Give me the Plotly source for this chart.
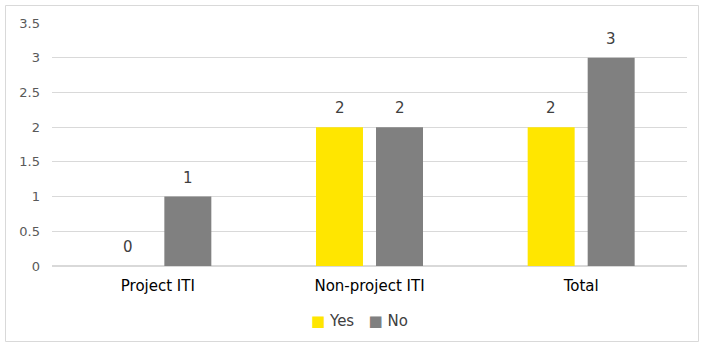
import plotly.graph_objects as go

categories = ["Project ITI", "Non-project ITI", "Total"]
yes_values = [0, 2, 2]
no_values = [1, 2, 3]
y_ticks = [0, 0.5, 1, 1.5, 2, 2.5, 3, 3.5]
series_names = ["Yes", "No"]

YELLOW = "#FFE600"
GREY = "#808080"
FONT = "DejaVu Sans"

W, H = 704, 347
L, R, T, B = 52, 17, 23, 81
pw, ph = W - L - R, H - T - B


def px_x(p):
    return (p - L) / pw


def px_y(p):
    return (H - B - p) / ph


fig = go.Figure()
for name, vals, col in zip(series_names, (yes_values, no_values), (YELLOW, GREY)):
    fig.add_trace(go.Bar(name=name, x=categories, y=vals, marker_color=col,
                         marker_line_width=0, showlegend=False))

# value labels above each bar
for i, cat in enumerate(categories):
    for vals, off in ((yes_values, -30), (no_values, 30)):
        fig.add_annotation(x=i, y=vals[i], text=str(vals[i]), xref="x", yref="y",
                           xshift=off, yshift=19, showarrow=False,
                           font=dict(family=FONT, size=15, color="#404040"))

# compact legend with small square swatches
legend_text = "   ".join(
    f"<span style='color:{c}'>■</span> {n}"
    for n, c in zip(series_names, (YELLOW, GREY))
)
fig.add_annotation(x=px_x(359), y=px_y(321), xref="paper", yref="paper",
                   text=legend_text, showarrow=False, xanchor="center", yanchor="middle",
                   font=dict(family=FONT, size=15, color="#404040"))

# outer chart border
fig.add_shape(type="rect", xref="paper", yref="paper",
              x0=px_x(5.5), x1=px_x(698.5), y0=px_y(341.5), y1=px_y(5.5),
              line=dict(color="#D9D9D9", width=1), layer="below")

fig.update_layout(
    width=W, height=H,
    margin=dict(l=L, r=R, t=T, b=B),
    barmode="group", bargap=0.433, bargroupgap=0.217,
    plot_bgcolor="white", paper_bgcolor="white",
    font=dict(family=FONT),
    showlegend=False,
    xaxis=dict(tickfont=dict(family=FONT, size=15, color="#000000"),
               showline=False, ticks="", showgrid=False, ticklabelstandoff=9),
    yaxis=dict(range=[0, 3.5], tickvals=y_ticks, ticktext=[f"{v:g}" for v in y_ticks],
               tickfont=dict(family=FONT, size=13, color="#595959"),
               gridcolor="#D9D9D9", gridwidth=1, zeroline=True, zerolinecolor="#D9D9D9",
               ticklabelstandoff=11, ticks=""),
)

fig.write_html("out.html")
